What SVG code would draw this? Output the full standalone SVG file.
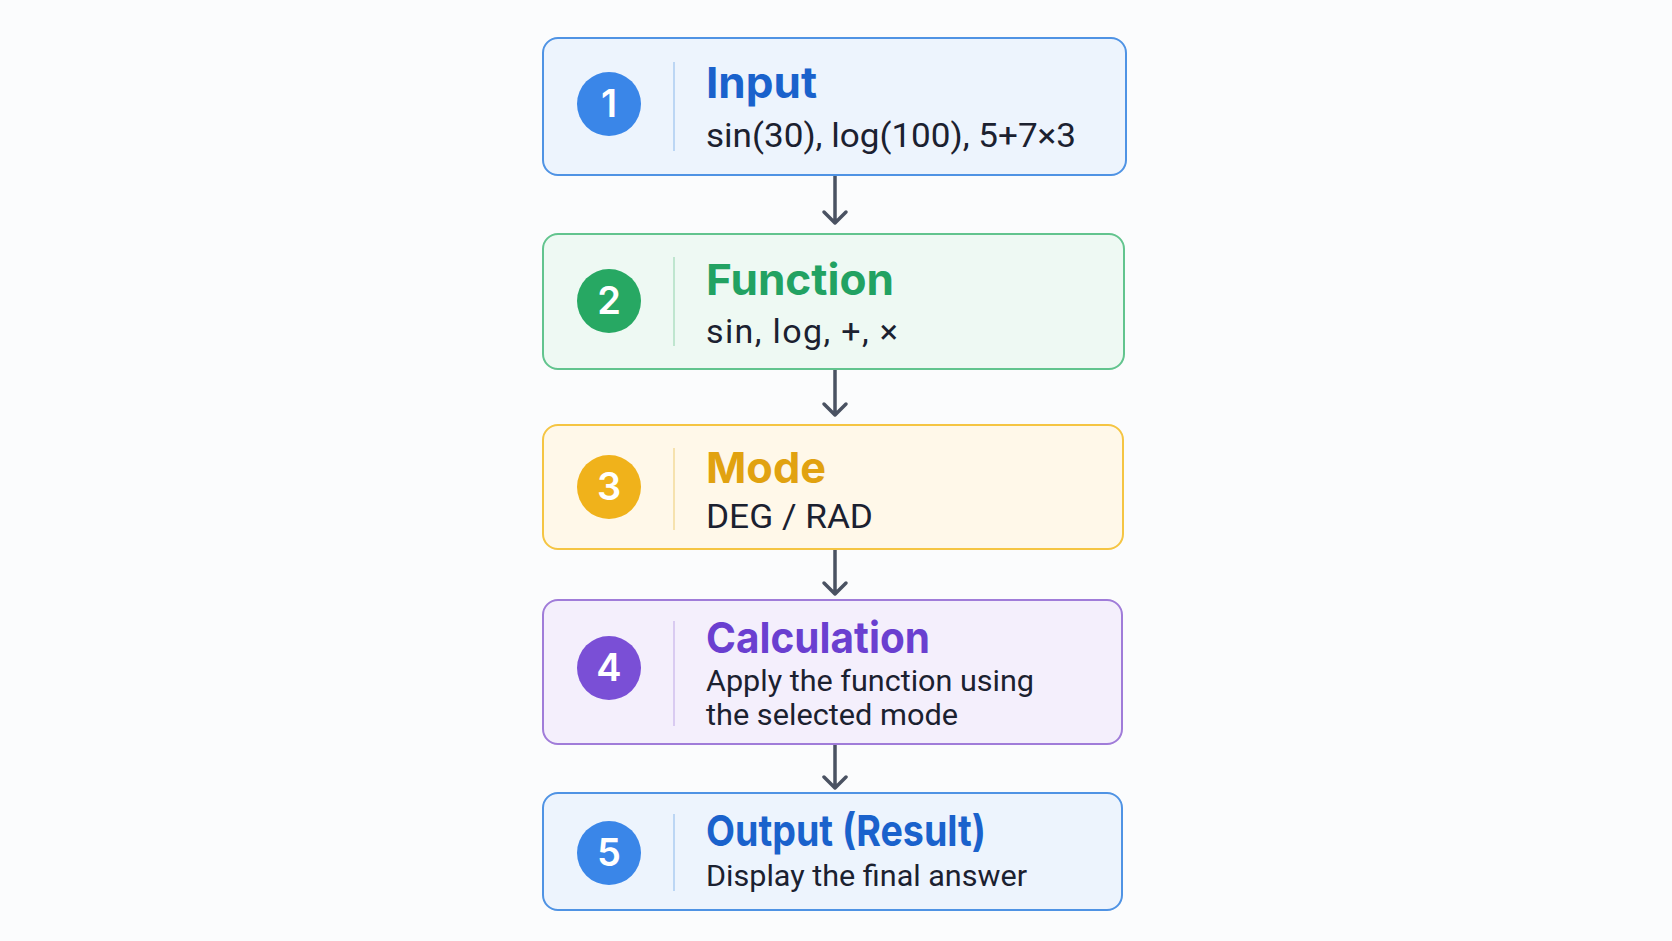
<svg xmlns="http://www.w3.org/2000/svg" width="1672" height="941" viewBox="0 0 1672 941">
<style>
.box{stroke-width:2}
.title{font-family:Inter,"Noto Sans",sans-serif;font-weight:700;font-size:43px}
.sub{font-family:Roboto,"Liberation Sans",sans-serif;font-size:34px;fill:#1b2130}
.sub2{font-family:Roboto,"Liberation Sans",sans-serif;font-size:30px;fill:#1b2130}
.num{font-family:Inter,"Noto Sans",sans-serif;font-weight:600;font-size:38px;fill:#ffffff;text-anchor:middle}
.div{stroke-width:2}
.conn{stroke:#4a5262;stroke-width:3.5;fill:none;stroke-linecap:round;stroke-linejoin:round}
</style>
<rect width="1672" height="941" fill="#fbfcfd"/>
<g id="connectors">
<path class="conn" d="M835,176 V223 M824,212 L835,223 L846,212"/>
<path class="conn" d="M835,370 V415 M824,404 L835,415 L846,404"/>
<path class="conn" d="M835,550 V594 M824,583 L835,594 L846,583"/>
<path class="conn" d="M835,745 V788 M824,777 L835,788 L846,777"/>
</g>
<g id="node1">
<rect class="box" x="543" y="38" width="583" height="137" rx="15" fill="#edf4fd" stroke="#4f93e4"/>
<line class="div" x1="674" y1="62" x2="674" y2="151" stroke="#bcd6f4"/>
<circle cx="609" cy="104" r="32" fill="#3a86e8"/>
<text class="num" x="609" y="117">1</text>
<text class="title" x="706" y="98" fill="#1a62cc" textLength="111" lengthAdjust="spacingAndGlyphs">Input</text>
<text class="sub" x="706" y="147" textLength="370" lengthAdjust="spacingAndGlyphs">sin(30), log(100), 5+7×3</text>
</g>
<g id="node2">
<rect class="box" x="543" y="234" width="581" height="135" rx="15" fill="#eef9f3" stroke="#62c48e"/>
<line class="div" x1="674" y1="257" x2="674" y2="346" stroke="#bfe6cf"/>
<circle cx="609" cy="301" r="32" fill="#27a863"/>
<text class="num" x="609" y="314">2</text>
<text class="title" x="706" y="295" fill="#22a262" textLength="188" lengthAdjust="spacingAndGlyphs">Function</text>
<text class="sub" x="706" y="343" textLength="192" lengthAdjust="spacing">sin, log, +, ×</text>
</g>
<g id="node3">
<rect class="box" x="543" y="425" width="580" height="124" rx="15" fill="#fff8e9" stroke="#f5c543"/>
<line class="div" x1="674" y1="448" x2="674" y2="530" stroke="#f6e2ae"/>
<circle cx="609" cy="487" r="32" fill="#f0b21b"/>
<text class="num" x="609" y="500">3</text>
<text class="title" x="706" y="483" fill="#e1a210" textLength="120" lengthAdjust="spacingAndGlyphs">Mode</text>
<text class="sub" x="706" y="528" textLength="167" lengthAdjust="spacingAndGlyphs">DEG / RAD</text>
</g>
<g id="node4">
<rect class="box" x="543" y="600" width="579" height="144" rx="15" fill="#f4effc" stroke="#a07cd9"/>
<line class="div" x1="674" y1="621" x2="674" y2="726" stroke="#d9cbf1"/>
<circle cx="609" cy="668" r="32" fill="#7a4fd6"/>
<text class="num" x="609" y="681">4</text>
<text class="title" x="706" y="653" fill="#6a3fd0" textLength="224" lengthAdjust="spacingAndGlyphs">Calculation</text>
<text class="sub2" x="706" y="691" textLength="328" lengthAdjust="spacingAndGlyphs">Apply the function using</text>
<text class="sub2" x="706" y="725" textLength="252" lengthAdjust="spacingAndGlyphs">the selected mode</text>
</g>
<g id="node5">
<rect class="box" x="543" y="793" width="579" height="117" rx="15" fill="#edf4fd" stroke="#4f93e4"/>
<line class="div" x1="674" y1="814" x2="674" y2="891" stroke="#bcd6f4"/>
<circle cx="609" cy="853" r="32" fill="#3a86e8"/>
<text class="num" x="609" y="866">5</text>
<text class="title" x="706" y="846" fill="#1a62cc" textLength="280" lengthAdjust="spacingAndGlyphs">Output (Result)</text>
<text class="sub2" x="706" y="886" textLength="321" lengthAdjust="spacingAndGlyphs">Display the final answer</text>
</g>
</svg>
